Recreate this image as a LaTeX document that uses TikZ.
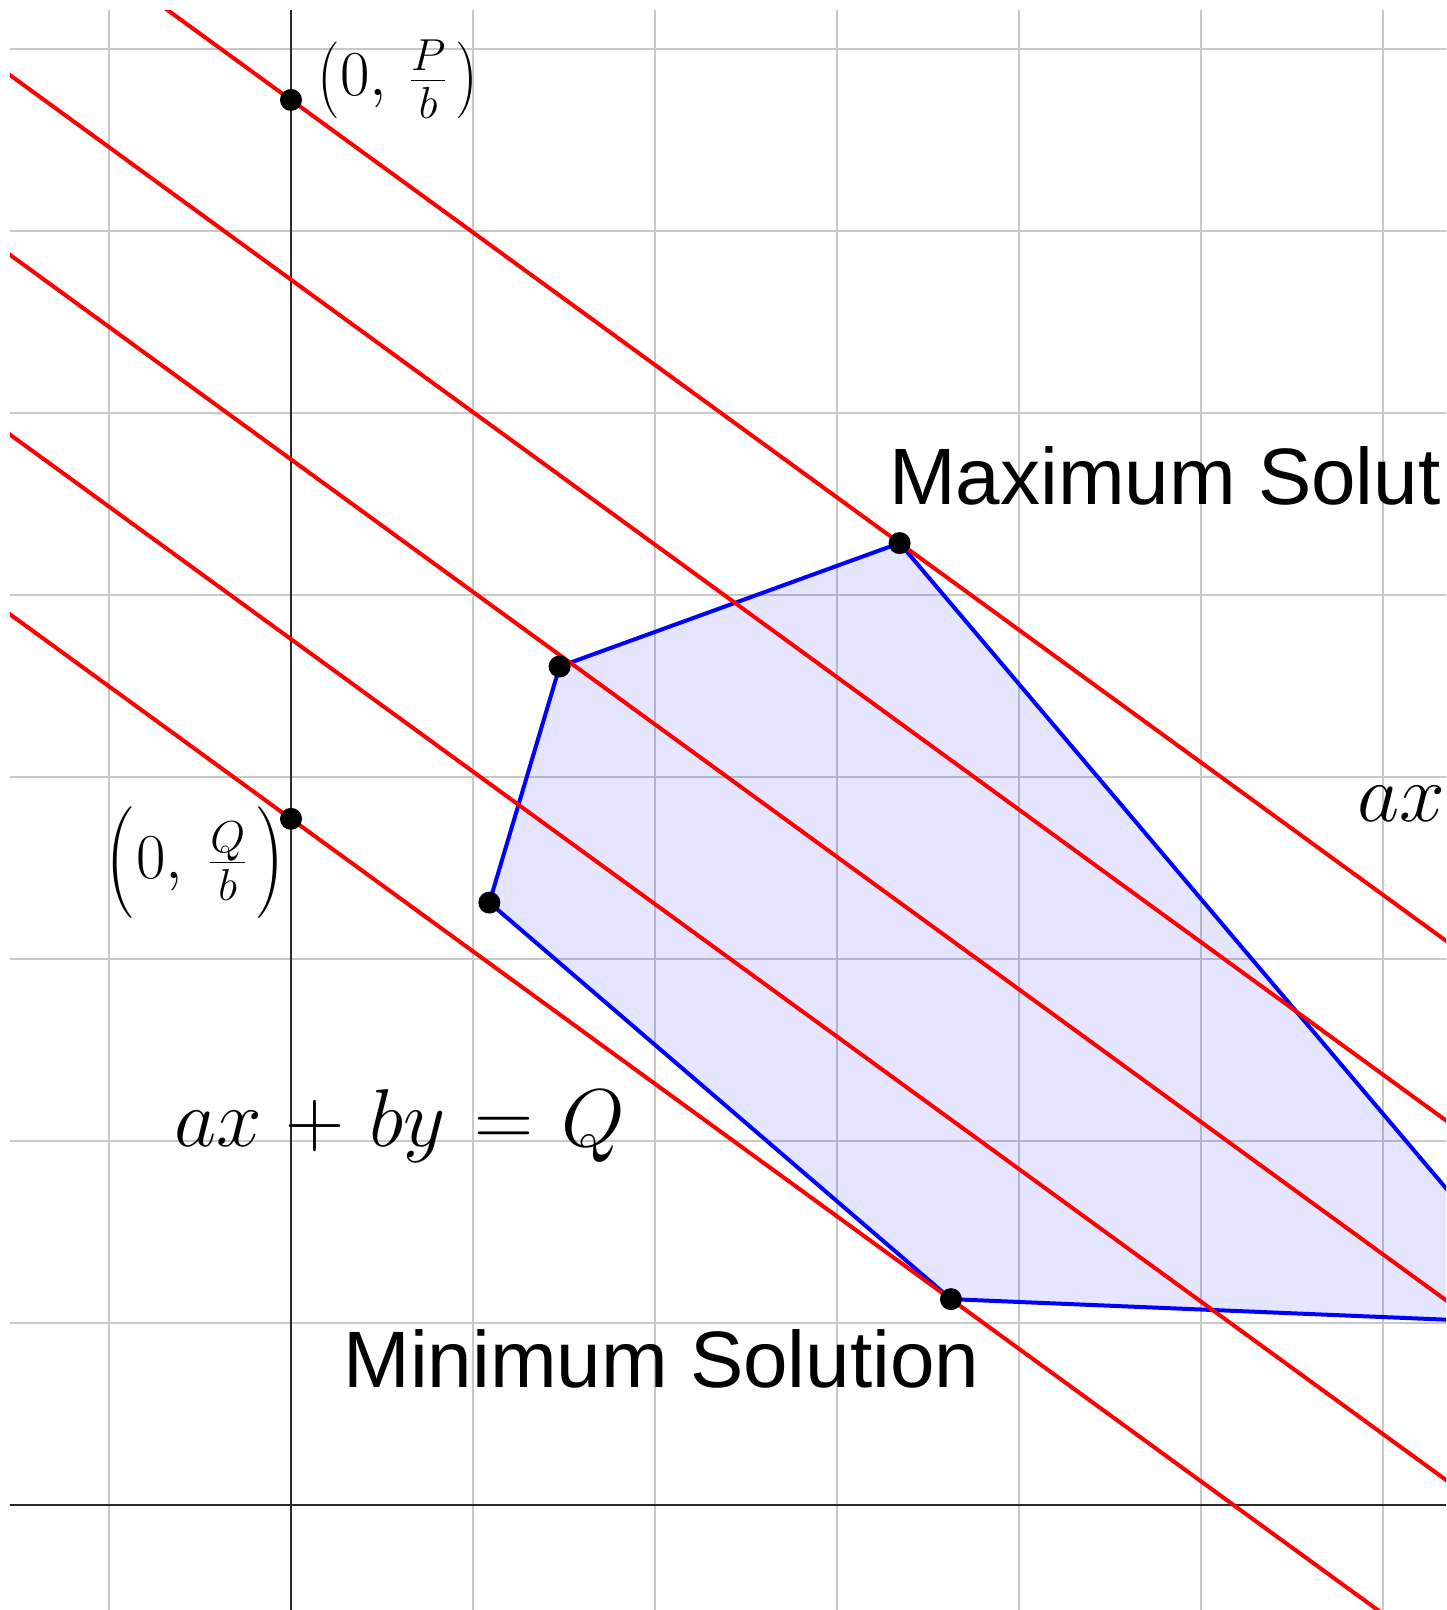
\RequirePackage{fix-cm}
\documentclass[tikz,border=0pt]{standalone}
\usepackage{graphicx}
\usepackage{fontspec}
\newfontfamily\labelsans{Liberation Sans}
\definecolor{gridgray}{RGB}{200,200,200}
\definecolor{axisgray}{RGB}{40,40,40}
\definecolor{lpred}{RGB}{255,0,0}
\definecolor{lpblue}{RGB}{0,0,255}
\newcommand{\eqspacing}{\medmuskip=5.3mu \thickmuskip=6.3mu}
\newcommand{\tallopen}[2]{\mathopen{\vcenter{\hbox{\scalebox{#1}[#2]{$($}}}}}
\newcommand{\tallclose}[2]{\mathclose{\vcenter{\hbox{\scalebox{#1}[#2]{$)$}}}}}
\begin{document}
\begin{tikzpicture}[x=91pt,y=91pt,
  gridline/.style={draw=gridgray, line width=1pt},
  axisline/.style={draw=axisgray, line width=1.2pt},
  redline/.style={draw=lpred, line width=2pt},
  blueedge/.style={draw=lpblue, line width=2pt, line join=round},
  regionfill/.style={fill=lpblue, fill opacity=0.1},
  dot/.style={circle, fill=black, inner sep=0pt, minimum size=11pt},
  mathlabel/.style={inner sep=0pt, font=\fontsize{32}{38}\selectfont},
  eqlabel/.style={inner sep=0pt, anchor=base west, font=\fontsize{41}{49}\selectfont},
  textlabel/.style={inner sep=0pt, anchor=base west, font=\labelsans\fontsize{40}{48}\selectfont}]
\useasboundingbox (-1.5989,-0.5769) rectangle (6.3462,8.2692);
\begin{scope}
\clip (-1.544,-0.5769) rectangle (6.3462,8.209);
% grid
\draw[gridline, step=91pt] (-2,-1) grid (7,9);
% feasible region
\coordinate (A) at (3.344,5.285);
\coordinate (B) at (1.476,4.607);
\coordinate (C) at (1.09,3.31);
\coordinate (D) at (3.626,1.131);
\coordinate (E) at (6.98,0.992);
\fill[regionfill] (A) -- (B) -- (C) -- (D) -- (E) -- cycle;
% axes
\coordinate (xl) at (-1.6,0);
\coordinate (xr) at (6.4,0);
\coordinate (yb) at (0,-0.6);
\coordinate (yt) at (0,8.3);
\draw[axisline] (xl) -- (xr);
\draw[axisline] (yb) -- (yt);
% region boundary
\draw[blueedge] (A) -- (B) -- (C) -- (D) -- (E) -- cycle;
% level lines ax+by = const
\foreach \c in {7.72,6.7325,5.745,4.7575,3.77}
  \draw[redline] (-2,\c+1.456) -- (7,\c-5.096);
% points
\node[dot] (P) at (0,7.72) {};
\node[dot] (Q) at (0,3.77) {};
\node[dot] (Amax) at (A) {};
\node[dot] (Bv) at (B) {};
\node[dot] (Cv) at (C) {};
\node[dot] (Dmin) at (D) {};
% labels
\node[mathlabel, anchor=base west] (plab) at (0.146,7.742)
  {$\tallopen{1}{1.2}0,\mskip3mu\frac{P}{b}\mskip2mu\tallclose{1}{1.2}$};
\node[mathlabel, anchor=base east] (qlab) at (-0.03,3.443)
  {$\tallopen{1.35}{1.75}0,\mskip4mu\frac{Q}{b}\mskip2mu\tallclose{1.35}{1.75}$};
\node[eqlabel] (eqQ) at (-0.645,1.969) {$\eqspacing ax+by=Q$};
\node[eqlabel] (eqP) at (5.855,3.753) {$\eqspacing ax+by=P$};
\node[textlabel] (maxlab) at (3.285,5.495) {Maximum Solut\kern2.5pt ion};
\node[textlabel] (minlab) at (0.286,0.647) {Minimum Solution};
\end{scope}
\end{tikzpicture}
\end{document}
